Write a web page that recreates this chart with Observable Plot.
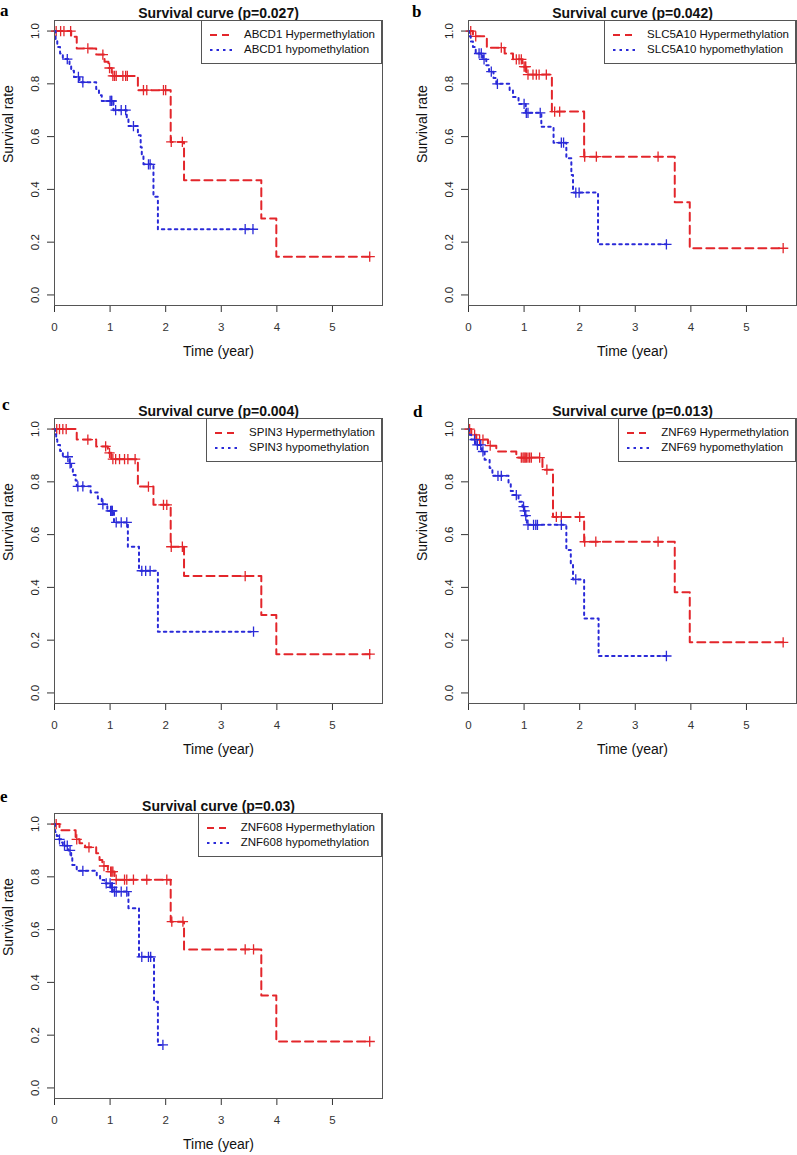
<!DOCTYPE html>
<html>
<head>
<meta charset="utf-8">
<script src="https://cdn.jsdelivr.net/npm/d3@7"></script>
<script src="https://cdn.jsdelivr.net/npm/@observablehq/plot@0.6"></script>
<style>
  html, body { margin: 0; padding: 0; background: #fff; overflow: hidden; }
  #root { position: relative; width: 797px; height: 1155px; font-family: "Liberation Sans", Arial, sans-serif; }
  .panel { position: absolute; width: 400px; height: 370px; }
  .legend { position: absolute; top: 20px; right: 18px; border: 1px solid #555; background: #fff;
            padding: 6px 6px 6px 8px; font-size: 11.5px; color: #111; line-height: 15px; }
  .legend .row { display: flex; align-items: center; white-space: nowrap; }
  .legend svg { width: 22px; height: 10px; margin-right: 12px; }
  #letters { position: absolute; left: 0; top: 0; width: 797px; height: 1155px; pointer-events: none; }
</style>
</head>
<body>
<div id="root"></div>
<script>
// ---------- tick labels ----------
const xTicks = [0, 1, 2, 3, 4, 5];
const yTicks = [0, 0.2, 0.4, 0.6, 0.8, 1.0];

// ---------- panel texts ----------
const panelLetters = ["a", "b", "c", "d", "e"];
const panelTitles = ["Survival curve (p=0.027)", "Survival curve (p=0.042)", "Survival curve (p=0.004)",
                     "Survival curve (p=0.013)", "Survival curve (p=0.03)"];
const geneNames = ["ABCD1", "SLC5A10", "SPIN3", "ZNF69", "ZNF608"];
const groupSuffix = ["Hypermethylation", "hypomethylation"];

// ---------- data: step points [time, survival after drop], censor times ----------
// a: ABCD1
const aHyperSteps = [[0.30,0.978],[0.40,0.934],[0.75,0.911],[0.90,0.884],[0.97,0.860],[1.03,0.830],[1.50,0.776],[2.09,0.580],[2.33,0.435],[3.72,0.290],[3.99,0.145]];
const aHyperCensor = [0.03,0.11,0.17,0.29,0.60,0.87,0.99,1.05,1.08,1.11,1.23,1.28,1.31,1.60,1.66,1.96,2.00,2.10,2.30,5.67];
const aHypoSteps = [[0.02,0.970],[0.05,0.940],[0.10,0.915],[0.15,0.894],[0.27,0.870],[0.30,0.850],[0.35,0.826],[0.45,0.806],[0.75,0.780],[0.80,0.757],[0.85,0.735],[1.06,0.700],[1.30,0.667],[1.33,0.640],[1.50,0.605],[1.55,0.560],[1.57,0.530],[1.60,0.495],[1.78,0.372],[1.86,0.249]];
const aHypoCensor = [0.23,0.43,0.51,1.00,1.02,1.03,1.10,1.20,1.28,1.42,1.69,1.72,3.43,3.57];
// b: SLC5A10
const bHyperSteps = [[0.08,0.980],[0.33,0.937],[0.65,0.915],[0.80,0.893],[0.97,0.865],[1.04,0.835],[1.50,0.695],[2.08,0.524],[3.71,0.351],[3.98,0.177]];
const bHyperCensor = [0.04,0.13,0.59,0.86,0.91,0.95,1.00,1.02,1.03,1.07,1.16,1.22,1.27,1.40,1.55,1.64,2.09,2.30,3.41,5.66];
const bHypoSteps = [[0.01,0.980],[0.04,0.960],[0.08,0.940],[0.13,0.915],[0.26,0.893],[0.32,0.870],[0.37,0.846],[0.45,0.822],[0.50,0.800],[0.74,0.775],[0.80,0.750],[0.90,0.724],[1.03,0.690],[1.31,0.637],[1.53,0.577],[1.76,0.518],[1.85,0.455],[1.88,0.388],[2.33,0.192]];
const bHypoCensor = [0.19,0.23,0.28,0.41,0.52,1.00,1.04,1.07,1.29,1.67,1.71,1.93,1.99,3.56];
// c: SPIN3
const cHyperSteps = [[0.40,0.960],[0.75,0.934],[0.96,0.910],[1.02,0.886],[1.50,0.782],[1.78,0.713],[2.09,0.554],[2.33,0.443],[3.72,0.295],[3.99,0.147]];
const cHyperCensor = [0.04,0.09,0.15,0.21,0.60,0.92,0.99,1.05,1.10,1.17,1.26,1.32,1.45,1.69,1.96,2.02,2.10,2.30,3.43,5.67];
const cHypoSteps = [[0.01,0.980],[0.03,0.960],[0.05,0.940],[0.10,0.917],[0.15,0.895],[0.27,0.870],[0.30,0.850],[0.33,0.826],[0.38,0.805],[0.40,0.783],[0.65,0.760],[0.78,0.737],[0.85,0.715],[0.95,0.690],[1.07,0.646],[1.32,0.554],[1.52,0.463],[1.86,0.232]];
const cHypoCensor = [0.24,0.28,0.42,0.51,0.87,1.01,1.03,1.04,1.11,1.20,1.30,1.57,1.64,1.72,3.58];
// d: ZNF69
const dHyperSteps = [[0.05,0.978],[0.14,0.960],[0.35,0.937],[0.50,0.915],[0.86,0.892],[1.33,0.846],[1.52,0.667],[2.08,0.573],[3.71,0.382],[3.98,0.192]];
const dHyperCensor = [0.02,0.11,0.20,0.26,0.39,0.95,0.98,1.00,1.02,1.04,1.07,1.10,1.13,1.28,1.41,1.58,1.67,2.00,2.09,2.29,3.41,5.66];
const dHypoSteps = [[0.01,0.978],[0.05,0.960],[0.13,0.940],[0.24,0.915],[0.29,0.884],[0.38,0.852],[0.43,0.823],[0.72,0.795],[0.76,0.765],[0.80,0.750],[0.90,0.725],[0.97,0.706],[1.00,0.690],[1.02,0.672],[1.05,0.637],[1.76,0.542],[1.84,0.490],[1.88,0.430],[2.08,0.282],[2.34,0.140]];
const dHypoCensor = [0.11,0.16,0.22,0.26,0.53,0.59,0.86,0.99,1.01,1.03,1.07,1.17,1.21,1.24,1.67,1.93,3.56];
// e: ZNF608
const eHyperSteps = [[0.09,0.977],[0.38,0.942],[0.45,0.927],[0.55,0.912],[0.75,0.889],[0.81,0.864],[0.86,0.841],[0.96,0.820],[1.08,0.789],[2.09,0.630],[2.33,0.525],[3.72,0.350],[3.99,0.176]];
const eHyperCensor = [0.03,0.40,0.62,0.89,1.01,1.03,1.05,1.11,1.26,1.30,1.42,1.66,2.02,2.11,2.31,3.43,3.58,5.67];
const eHypoSteps = [[0.01,0.970],[0.04,0.955],[0.07,0.942],[0.13,0.930],[0.15,0.918],[0.25,0.900],[0.30,0.870],[0.32,0.845],[0.40,0.823],[0.76,0.803],[0.82,0.788],[0.90,0.775],[1.01,0.760],[1.05,0.744],[1.33,0.681],[1.52,0.497],[1.79,0.327],[1.86,0.163]];
const eHypoCensor = [0.09,0.18,0.23,0.28,0.51,0.93,1.00,1.03,1.04,1.08,1.11,1.20,1.30,1.57,1.69,1.73,1.95];

// ---------- build ----------
const RED = "#e3262b";
const BLUE = "#2a2ad8";
const panelSteps = [[aHyperSteps, aHypoSteps],[bHyperSteps, bHypoSteps],[cHyperSteps, cHypoSteps],[dHyperSteps, dHypoSteps],[eHyperSteps, eHypoSteps]];
const panelCensor = [[aHyperCensor, aHypoCensor],[bHyperCensor, bHypoCensor],[cHyperCensor, cHypoCensor],[dHyperCensor, dHypoCensor],[eHyperCensor, eHypoCensor]];
const panelPos = [[0,0],[414,0],[0,398],[414,398],[0,793]];
const letterPos = [[0,16],[412,17],[2,410],[413,417],[0,802]];

function survAt(steps, t) {
  let s = 1;
  for (const [ts, v] of steps) if (ts <= t) s = v;
  return s;
}
function lineData(steps, cens) {
  const last = Math.max(...cens, ...steps.map(d => d[0]));
  const pts = [{t: 0, s: 1}, ...steps.map(([t, s]) => ({t, s}))];
  pts.push({t: last, s: survAt(steps, last)});
  return pts;
}
function censData(steps, cens) {
  return cens.map(t => ({t, s: survAt(steps, t)}));
}

const root = document.getElementById("root");
const dashes = ["8,5", "2.5,4"];
const colors = [RED, BLUE];

panelTitles.forEach((title, i) => {
  const div = document.createElement("div");
  div.className = "panel";
  div.style.left = panelPos[i][0] + "px";
  div.style.top = panelPos[i][1] + "px";
  const marks = [
    Plot.axisX({ticks: xTicks, tickSize: 7, tickPadding: 10, fontSize: 11.5, label: null, color: "#333", tickFormat: d => String(d)}),
    Plot.axisY({ticks: yTicks, tickSize: 7, tickFormat: () => "", label: null, color: "#333"}),
    Plot.text(yTicks, {y: d => d, text: d => d.toFixed(1), frameAnchor: "left", dx: -19, rotate: -90,
                       textAnchor: "middle", lineAnchor: "middle", fontSize: 11.5, fill: "#222"})
  ];
  [0, 1].forEach(g => {
    const steps = panelSteps[i][g], cens = panelCensor[i][g];
    marks.push(Plot.line(lineData(steps, cens), {x: "t", y: "s", curve: "step-after", stroke: colors[g],
                          strokeWidth: 2, strokeDasharray: dashes[g]}));
    marks.push(Plot.dot(censData(steps, cens), {x: "t", y: "s", symbol: "plus", r: 3.4, stroke: colors[g], strokeWidth: 1.3}));
  });
  marks.push(
    Plot.frame({stroke: "#555"}),
    Plot.text([title], {frameAnchor: "top", dy: -12, fontWeight: "bold", fontSize: 14, fill: "#111"}),
    Plot.text(["Time (year)"], {frameAnchor: "bottom", dy: 50, fontSize: 14, fill: "#111"}),
    Plot.text(["Survival rate"], {frameAnchor: "left", dx: -46, rotate: -90, fontSize: 14, fill: "#111"})
  );
  const chart = Plot.plot({
    width: 400, height: 370,
    marginLeft: 54, marginRight: 18, marginTop: 20, marginBottom: 65,
    x: {domain: [0, 5.9]},
    y: {domain: [-0.04, 1.04]},
    style: {fontFamily: "'Liberation Sans', Arial, sans-serif", background: "transparent", overflow: "visible"},
    marks
  });
  div.appendChild(chart);

  // legend
  const leg = document.createElement("div");
  leg.className = "legend";
  [0, 1].forEach(g => {
    const row = document.createElement("div");
    row.className = "row";
    row.innerHTML = `<svg viewBox="0 0 22 10"><line x1="0" x2="22" y1="5" y2="5" stroke="${colors[g]}" stroke-width="2" stroke-dasharray="${g === 0 ? "7,5" : "2.5,4"}"/></svg><span>${geneNames[i]} ${groupSuffix[g]}</span>`;
    leg.appendChild(row);
  });
  div.appendChild(leg);
  root.appendChild(div);
});

// panel letters
const NS = "http://www.w3.org/2000/svg";
const lsvg = document.createElementNS(NS, "svg");
lsvg.setAttribute("id", "letters");
lsvg.setAttribute("width", 797);
lsvg.setAttribute("height", 1155);
panelLetters.forEach((l, i) => {
  const t = document.createElementNS(NS, "text");
  t.setAttribute("x", letterPos[i][0]);
  t.setAttribute("y", letterPos[i][1]);
  t.setAttribute("font-family", "'Liberation Serif', 'Times New Roman', serif");
  t.setAttribute("font-weight", "bold");
  t.setAttribute("font-size", "17");
  t.textContent = l;
  lsvg.appendChild(t);
});
root.appendChild(lsvg);
</script>
</body>
</html>
